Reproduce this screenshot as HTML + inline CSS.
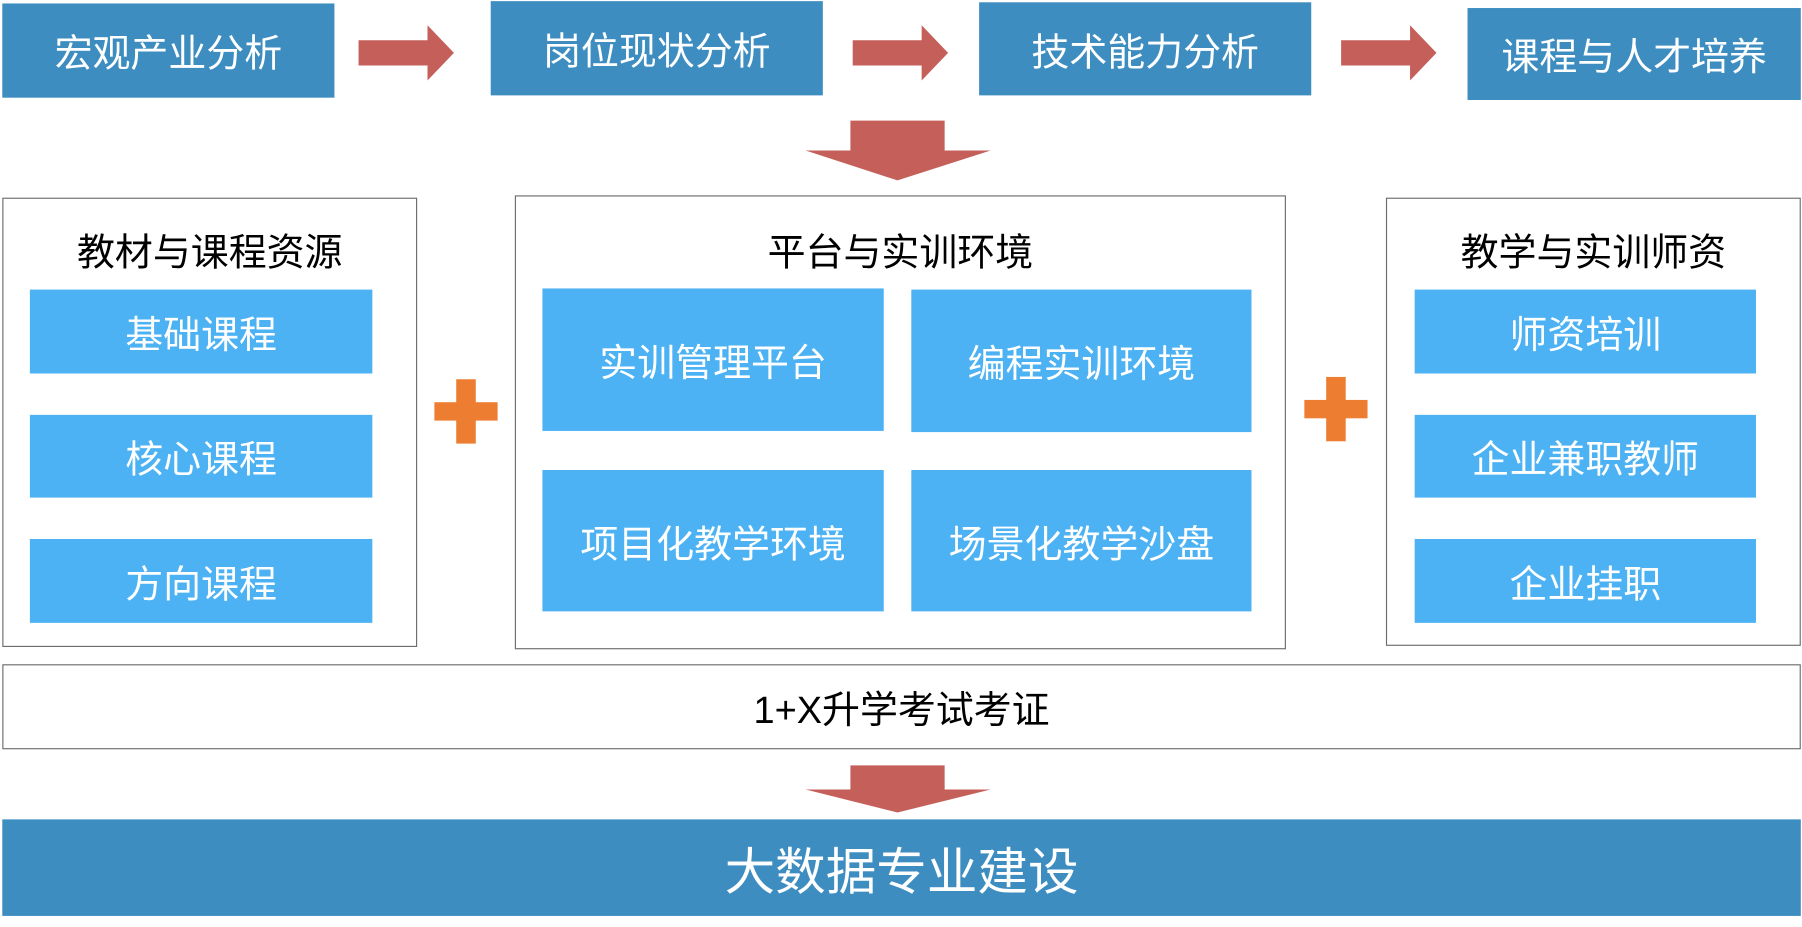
<!DOCTYPE html>
<html><head><meta charset="utf-8"><style>
html,body{margin:0;padding:0;background:#fff;width:1802px;height:927px;overflow:hidden}
#s{position:absolute;left:0;top:0;width:1568px;height:807px;transform:scale(1.1492);transform-origin:0 0;font-family:"Liberation Sans","Noto Sans CJK SC",sans-serif}
.b{position:absolute;display:flex;align-items:center;justify-content:center;color:#fff;box-sizing:border-box}
.d{background:#3d8dc0;font-size:33px}
.l{background:#4cb2f3;font-size:33px}
.p{position:absolute;border:1.5px solid #6d6d6d;box-sizing:border-box;background:#fff}
.t{position:absolute;left:0;right:0;text-align:center;font-size:33px;color:#000}
svg{position:absolute;left:0;top:0}
</style></head><body><div id="s">
<div class="b d" style="left:2px;top:3px;width:289px;height:82px">宏观产业分析</div>
<div class="b d" style="left:427px;top:1px;width:289px;height:82px">岗位现状分析</div>
<div class="b d" style="left:852px;top:2px;width:289px;height:81px">技术能力分析</div>
<div class="b d" style="left:1277px;top:7px;width:290px;height:80px">课程与人才培养</div>
<svg width="1568" height="807">
<g fill="#c55f5a">
<polygon points="312,35 372,35 372,22 395,46 372,70 372,57 312,57"/>
<polygon points="742,35 802,35 802,22 825,46 802,70 802,57 742,57"/>
<polygon points="1167,35 1227,35 1227,22 1250,46 1227,70 1227,57 1167,57"/>
<polygon points="740,105 822,105 822,131 862,131 781,157 701,131 740,131"/>
<polygon points="740,666 822,666 822,687 862,687 781,707 701,687 740,687"/>
</g>
</svg>
<div class="p" style="left:2px;top:172px;width:361px;height:391px"><div class="t" style="top:20px">教材与课程资源</div></div>
<div class="p" style="left:448px;top:170px;width:671px;height:395px"><div class="t" style="top:22px">平台与实训环境</div></div>
<div class="p" style="left:1206px;top:172px;width:361px;height:390px"><div class="t" style="top:20px">教学与实训师资</div></div>
<div class="b l" style="left:26px;top:252px;width:298px;height:73px">基础课程</div>
<div class="b l" style="left:26px;top:361px;width:298px;height:72px">核心课程</div>
<div class="b l" style="left:26px;top:469px;width:298px;height:73px">方向课程</div>
<div class="b l" style="left:472px;top:251px;width:297px;height:124px">实训管理平台</div>
<div class="b l" style="left:793px;top:252px;width:296px;height:124px">编程实训环境</div>
<div class="b l" style="left:472px;top:409px;width:297px;height:123px">项目化教学环境</div>
<div class="b l" style="left:793px;top:409px;width:296px;height:123px">场景化教学沙盘</div>
<div class="b l" style="left:1231px;top:252px;width:297px;height:73px">师资培训</div>
<div class="b l" style="left:1231px;top:361px;width:297px;height:72px">企业兼职教师</div>
<div class="b l" style="left:1231px;top:469px;width:297px;height:73px">企业挂职</div>
<svg width="1568" height="807"><g fill="#ed7d31">
<rect x="397" y="330" width="17" height="56"/><rect x="378" y="350" width="55" height="16"/>
<rect x="1154" y="328" width="17" height="56"/><rect x="1135" y="348" width="55" height="16"/>
</g></svg>
<div class="p" style="left:2px;top:578px;width:1565px;height:74px;display:flex;align-items:center;justify-content:center;font-size:33px">1+X升学考试考证</div>
<div class="b d" style="left:2px;top:713px;width:1565px;height:84px;font-size:44px">大数据专业建设</div>
</div></body></html>
